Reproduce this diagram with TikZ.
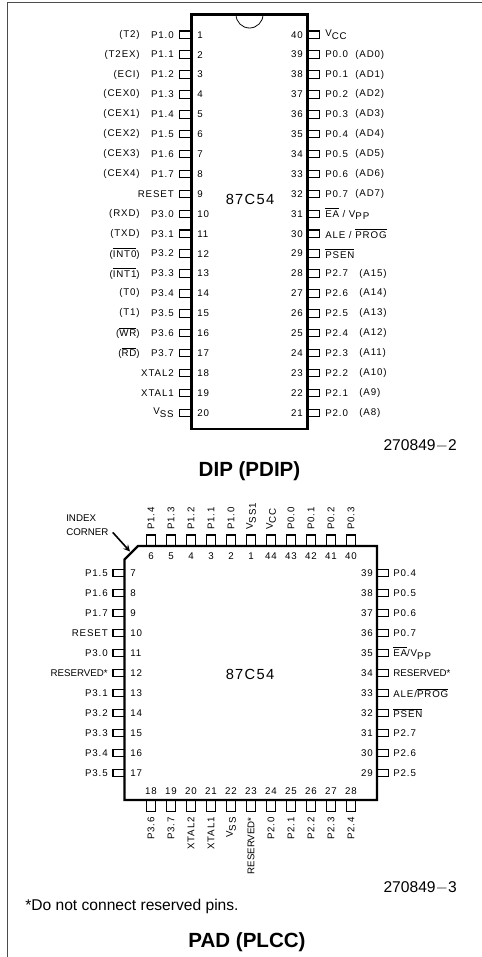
\documentclass[tikz,border=0pt]{standalone}
\usepackage{fontspec}
\setmainfont{Liberation Sans}
\newfontfamily\pinfont[LetterSpace=9]{Liberation Sans}
\newfontfamily\tightfont[LetterSpace=0]{Liberation Sans}
\newcommand{\ovl}[1]{$\overline{\hbox{#1}}$}
\newcommand{\lowtxt}[1]{\raisebox{-2.2pt}{#1}}
\newcommand{\rsv}{{\tightfont RESERVED*}}
\begin{document}
\begin{tikzpicture}[x=0.75pt,y=-0.75pt,
    pinbox/.style ={rectangle, draw, line width=0.8pt, inner sep=0pt, minimum width=8.5pt, minimum height=5.6pt},
    padbox/.style ={rectangle, draw, line width=1pt, inner sep=0pt, minimum width=8.5pt, minimum height=5.6pt},
    padboxv/.style ={padbox, minimum width=6.8pt, minimum height=8.5pt},
    pinlabel/.style ={inner sep=0pt, font=\pinfont\fontsize{7.3}{8}\selectfont},
    partname/.style ={inner sep=0pt, font=\pinfont\fontsize{11}{12}\selectfont},
    caption/.style ={inner sep=0pt, font=\bfseries\fontsize{15.4}{17}\selectfont},
    figno/.style ={inner sep=0pt, font=\fontsize{11.7}{13}\selectfont}]
   \useasboundingbox (0,0) rectangle (482,957);
   \draw[black!70, line width=0.9pt] (7.5,957) -- (7.5,2.5) -- (482,2.5);
   % DIP package
   \foreach \n/\lab in {1/P1.0,2/P1.1,3/P1.2,4/P1.3,5/P1.4,6/P1.5,7/P1.6,8/P1.7,9/RESET,10/P3.0,11/P3.1,12/P3.2,13/P3.3,14/P3.4,15/P3.5,16/P3.6,17/P3.7,18/XTAL2,19/XTAL1,20/{V\lowtxt{SS}}}{
      \node[pinbox] (p\n) at (185.5,34.7+19.9*\n-19.9) {};
      \node[pinlabel, anchor=east] (l\n) at (174,34.7+19.9*\n-19.9) {\lab};
      \node[pinlabel, anchor=west] (n\n) at (197,34.7+19.9*\n-19.9) {\n};
   }
   \foreach \n/\lab in {1/(T2),2/(T2EX),3/(ECI),4/(CEX0),5/(CEX1),6/(CEX2),7/(CEX3),8/(CEX4),10/(RXD),11/(TXD),12/{(\ovl{INT0})},13/{(\ovl{INT1})},14/(T0),15/(T1),16/{(\ovl{WR})},17/{(\ovl{RD})}}{
      \node[pinlabel, anchor=east] (a\n) at (140,34.7+19.9*\n-19.9) {\lab};
   }
   \foreach \n/\lab in {40/{V\lowtxt{CC}},39/P0.0,38/P0.1,37/P0.2,36/P0.3,35/P0.4,34/P0.5,33/P0.6,32/P0.7,31/{\ovl{EA} / V\lowtxt{PP}},30/{ALE / \ovl{PROG}},29/\ovl{PSEN},28/P2.7,27/P2.6,26/P2.5,25/P2.4,24/P2.3,23/P2.2,22/P2.1,21/P2.0}{
      \node[pinbox] (p\n) at (314,34.7+19.9*40-19.9*\n) {};
      \node[pinlabel, anchor=west] (l\n) at (325,34.7+19.9*40-19.9*\n) {\lab};
      \node[pinlabel, anchor=east] (n\n) at (303,34.7+19.9*40-19.9*\n) {\n};
   }
   \foreach \n/\lab/\ax in {39/(AD0)/355,38/(AD1)/355,37/(AD2)/355,36/(AD3)/355,35/(AD4)/355,34/(AD5)/355,33/(AD6)/355,32/(AD7)/355,28/(A15)/359,27/(A14)/359,26/(A13)/359,25/(A12)/359,24/(A11)/359,23/(A10)/359,22/(A9)/359,21/(A8)/359}{
      \node[pinlabel, anchor=west] (a\n) at (\ax,34.7+19.9*40-19.9*\n) {\lab};
   }
   \draw[line width=2.2pt] (191.5,14.5) rectangle (307.5,429);
   \draw[semithick] (236,14.5) arc[start angle=180, end angle=0, radius=13.5];
   \node[partname] (dipname) at (250,199) {87C54};
   \node[figno, anchor=east] (dipfig) at (457,446) {270849$-$2};
   \node[caption] (dipcap) at (249.5,471) {DIP (PDIP)};
   % PLCC package
   \foreach \n/\lab [count=\i] in {7/P1.5,8/P1.6,9/P1.7,10/RESET,11/P3.0,12/\rsv,13/P3.1,14/P3.2,15/P3.3,16/P3.4,17/P3.5}{
      \node[padbox] (q\n) at (118.5,553+20*\i) {};
      \node[pinlabel, anchor=east] (m\n) at (108,553+20*\i) {\lab};
      \node[pinlabel, anchor=west] (k\n) at (130,553+20*\i) {\n};
   }
   \foreach \n/\lab [count=\i] in {39/P0.4,38/P0.5,37/P0.6,36/P0.7,35/{\ovl{EA}/V\lowtxt{PP}},34/\rsv,33/{ALE/\ovl{PROG}},32/\ovl{PSEN},31/P2.7,30/P2.6,29/P2.5}{
      \node[padbox] (q\n) at (382.5,553+20*\i) {};
      \node[pinlabel, anchor=west] (m\n) at (393,553+20*\i) {\lab};
      \node[pinlabel, anchor=east] (k\n) at (373,553+20*\i) {\n};
   }
   \foreach \n/\lab [count=\i] in {6/P1.4,5/P1.3,4/P1.2,3/P1.1,2/P1.0,1/{V\lowtxt{SS1}},44/{V\lowtxt{CC}},43/P0.0,42/P0.1,41/P0.2,40/P0.3}{
      \node[padboxv] (q\n) at (131+20*\i,540.5) {};
      \node[pinlabel, anchor=west, rotate=90] (m\n) at (131+20*\i,530) {\lab};
      \node[pinlabel] (k\n) at (131+20*\i,556) {\n};
   }
   \foreach \n/\lab [count=\i] in {18/P3.6,19/P3.7,20/XTAL2,21/XTAL1,22/{V\lowtxt{SS}},23/\rsv,24/P2.0,25/P2.1,26/P2.2,27/P2.3,28/P2.4}{
      \node[padboxv] (q\n) at (131+20*\i,805.5) {};
      \node[pinlabel, anchor=east, rotate=90] (m\n) at (131+20*\i,817) {\lab};
      \node[pinlabel] (k\n) at (131+20*\i,791) {\n};
   }
   \draw[line width=1.8pt] (138,546) -- (377,546) -- (377,800) -- (124.5,800) -- (124.5,559.5) -- cycle;
   \node[partname] (plccname) at (250,674) {87C54};
   \node[pinlabel, font=\tightfont\fontsize{7.3}{8}\selectfont, align=left, anchor=north west, inner xsep=3pt] (index) at (62,515) {INDEX\\[2.5pt]CORNER};
   \coordinate (corner) at (130,551.5);
   \draw[line width=1.2pt, ->, >=stealth] ([yshift=3pt]index.south east) to (corner);
   \node[figno, anchor=east] (plccfig) at (457,888) {270849$-$3};
   \node[figno, anchor=west] (note) at (25,906) {*Do not connect reserved pins.};
   \node[caption] (plcccap) at (247,942) {PAD (PLCC)};
 \end{tikzpicture}
\end{document}
